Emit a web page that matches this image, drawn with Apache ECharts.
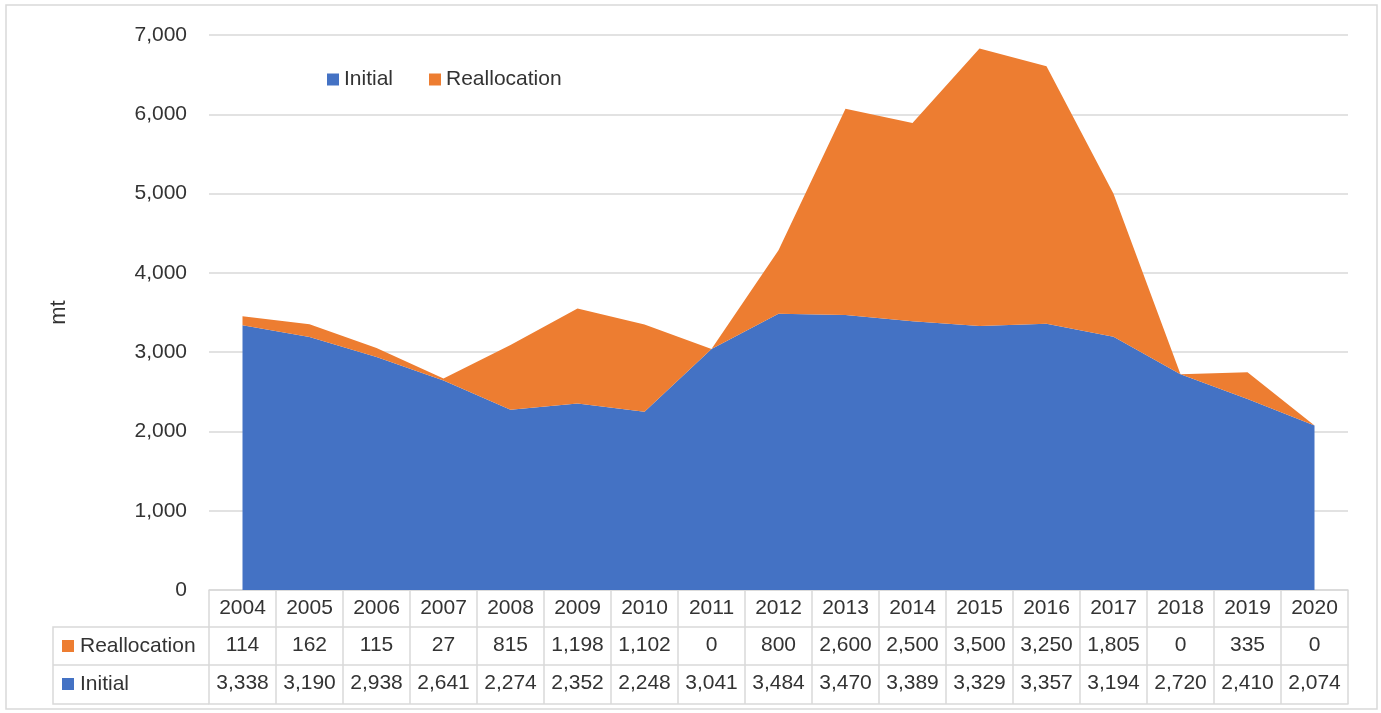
<!DOCTYPE html>
<html>
<head>
<meta charset="utf-8">
<script src="https://cdn.jsdelivr.net/npm/echarts@6/dist/echarts.min.js"></script>
<style>
  html, body { margin: 0; padding: 0; background: #fff; }
  #chart { width: 1381px; height: 713px; }
</style>
</head>
<body>
<div id="chart"></div>
<script>
// data
const years = ['2004', '2005', '2006', '2007', '2008', '2009', '2010', '2011', '2012',
  '2013', '2014', '2015', '2016', '2017', '2018', '2019', '2020'];
const initial = [3338, 3190, 2938, 2641, 2274, 2352, 2248, 3041, 3484,
  3470, 3389, 3329, 3357, 3194, 2720, 2410, 2074];
const reallocation = [114, 162, 115, 27, 815, 1198, 1102, 0, 800,
  2600, 2500, 3500, 3250, 1805, 0, 335, 0];

const BLUE = '#4472C4';
const ORANGE = '#ED7D31';
const LINE = '#d9d9d9';
const TEXT = '#333333';
const FONT = 'Liberation Sans';

const fmt = v => v.toLocaleString('en-US');

const chart = echarts.init(document.getElementById('chart'));

// table rows are extra category axes pushed below the grid
const tableAxis = (labels, offset) => ({
  type: 'category',
  data: labels,
  position: 'bottom',
  offset: offset,
  boundaryGap: true,
  axisLine: { show: true, lineStyle: { color: LINE, width: 1.5 } },
  axisTick: { show: false },
  axisLabel: {
    show: true, interval: 0, margin: 8,
    color: TEXT, fontSize: 21, fontFamily: FONT
  },
  splitLine: { show: false }
});

const option = {
  backgroundColor: '#fff',
  animation: false,
  textStyle: { fontFamily: FONT },
  grid: { left: 209, right: 33, top: 35, bottom: 123 },
  legend: {
    left: 322,
    top: 64,
    itemWidth: 12,
    itemHeight: 12,
    itemGap: 36,
    icon: 'rect',
    textStyle: { color: TEXT, fontSize: 21, fontFamily: FONT },
    data: ['Initial', 'Reallocation']
  },
  xAxis: [
    {
      type: 'category',
      data: years,
      boundaryGap: true,
      axisLine: { show: true, lineStyle: { color: LINE, width: 1.5 } },
      axisTick: {
        show: true, interval: 0, alignWithLabel: false, length: 114,
        lineStyle: { color: LINE, width: 1.5 }
      },
      axisLabel: {
        interval: 0, margin: 8,
        color: TEXT, fontSize: 21, fontFamily: FONT
      }
    },
    tableAxis(reallocation.map(fmt), 37),
    tableAxis(initial.map(fmt), 75),
    Object.assign(tableAxis(years.map(() => ''), 114), { axisLabel: { show: false } })
  ],
  yAxis: {
    type: 'value',
    min: 0,
    max: 7000,
    interval: 1000,
    name: 'mt',
    nameLocation: 'middle',
    nameRotate: 90,
    nameGap: 139,
    nameTextStyle: { color: TEXT, fontSize: 22, fontFamily: FONT },
    axisLine: { show: false },
    axisTick: { show: false },
    axisLabel: {
      margin: 22,
      color: TEXT, fontSize: 21, fontFamily: FONT,
      formatter: v => fmt(v)
    },
    splitLine: { lineStyle: { color: LINE, width: 1.5 } }
  },
  series: [
    {
      name: 'Initial',
      type: 'line',
      stack: 'total',
      data: initial,
      symbol: 'none',
      lineStyle: { width: 0 },
      areaStyle: { color: BLUE, opacity: 1 },
      itemStyle: { color: BLUE }
    },
    {
      name: 'Reallocation',
      type: 'line',
      stack: 'total',
      data: reallocation,
      symbol: 'none',
      lineStyle: { width: 0 },
      areaStyle: { color: ORANGE, opacity: 1 },
      itemStyle: { color: ORANGE }
    }
  ],
  graphic: [
    // chart frame
    { type: 'rect', shape: { x: 6, y: 5, width: 1371, height: 704 },
      style: { fill: 'none', stroke: LINE, lineWidth: 1.5 }, silent: true },
    // row label cells of the data table
    { type: 'polyline', shape: { points: [[209, 627], [53, 627], [53, 704], [209, 704]] },
      style: { fill: 'none', stroke: LINE, lineWidth: 1.5 }, silent: true },
    { type: 'line', shape: { x1: 53, y1: 665, x2: 209, y2: 665 },
      style: { stroke: LINE, lineWidth: 1.5 }, silent: true },
    { type: 'rect', shape: { x: 62, y: 640, width: 12, height: 12 },
      style: { fill: ORANGE }, silent: true },
    { type: 'text', x: 80, y: 646,
      style: { text: 'Reallocation', fill: TEXT, font: '21px ' + FONT, verticalAlign: 'middle' } },
    { type: 'rect', shape: { x: 62, y: 678, width: 12, height: 12 },
      style: { fill: BLUE }, silent: true },
    { type: 'text', x: 80, y: 684,
      style: { text: 'Initial', fill: TEXT, font: '21px ' + FONT, verticalAlign: 'middle' } }
  ]
};

chart.setOption(option);
window.addEventListener('resize', () => chart.resize());
</script>
</body>
</html>
